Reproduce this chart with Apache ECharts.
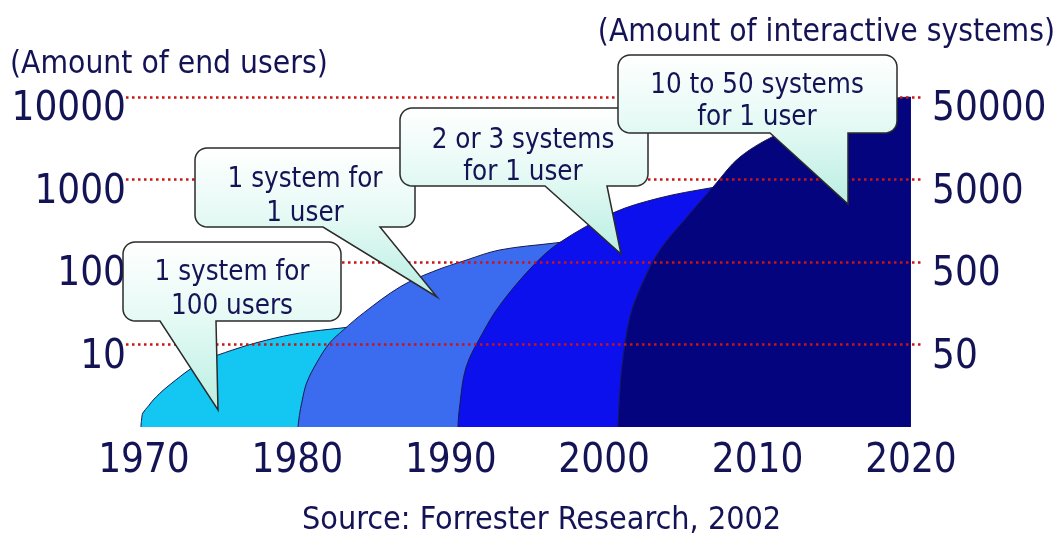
<!DOCTYPE html>
<html><head><meta charset="utf-8">
<script src="https://cdn.jsdelivr.net/npm/echarts@6/dist/echarts.min.js"></script>
<style>html,body{margin:0;background:#fff}#c{width:1061px;height:534px}</style>
</head><body><div id="c"></div>
<script>
// ---- data ----
const yearTicks = [1970, 1980, 1990, 2000, 2010, 2020];
const userTicks = [10, 100, 1000, 10000];          // left axis (end users)
const systemTickLabels = ['50', '500', '5000', '50000']; // right axis (interactive systems)

// [year, amount] outlines of each era area
const era1970 = [[1969.8,1],[1969.85,1.25],[1969.93,1.48],[1970.3,1.8],[1970.6,2.12],[1971.5,3.05],[1973.65,5.97],[1975.8,8.6],[1978.0,11.3],[1980.2,13.8],[1982.8,15.8],[1985,17.5],[1986,18]];
const era1980 = [[1980.04,1],[1980.15,1.45],[1980.28,1.95],[1980.6,3.4],[1981.26,6.0],[1982.1,10.4],[1983.0,15],[1984.3,24],[1986.7,50],[1988.8,76],[1991.05,106],[1993.2,140],[1996.8,170],[1999,190],[2001,200]];
const era1990 = [[1990.47,1],[1990.55,1.6],[1991.0,5.3],[1992.1,14],[1993.2,30],[1995.36,90],[1997.1,172],[2000.57,393],[2003.6,597],[2006.9,789],[2009,900],[2011,1000]];
const era2000 = [[2000.9,1],[2000.97,1.8],[2001.16,5.3],[2001.68,21.5],[2002.5,55.6],[2003.64,140],[2005.4,351],[2007.1,811],[2008.85,1870],[2011.46,3660],[2014,5600],[2017,8000],[2019.2,9800],[2020,10000]];

const eraNames = ['1970s', '1980s', '1990s', '2000s'];
const eraColors = ['#14c6f2', '#3b6cef', '#0b10ec', '#04047e'];

const calloutText = [
  ['1 system for', '100 users'],
  ['1 system for', '1 user'],
  ['2 or 3 systems', 'for 1 user'],
  ['10 to 50 systems', 'for 1 user']
];

// ---- layout (pixels) ----
const calloutLayout = [
  {x:123, y:242, w:218, h:79, t1:160, t2:216, tip:[218,410], tx:232, ty:[273,307]},
  {x:195, y:148, w:220, h:79, t1:323, t2:380, tip:[437,297], tx:305, ty:[180,214]},
  {x:400, y:108, w:248, h:78, t1:545, t2:607, tip:[621,254], tx:523, ty:[141,173]},
  {x:618, y:55,  w:279, h:78, t1:770, t2:848, tip:[848,204], tx:757, ty:[86,118]}
];

const FONT = '"DejaVu Sans Condensed", "Liberation Sans Narrow", "DejaVu Sans", sans-serif';
const INK = '#131355';

function arc(pts, cx, cy, r, a0, a1) {
  const n = 8;
  for (let k = 0; k <= n; k++) {
    const a = (a0 + (a1 - a0) * k / n) * Math.PI / 180;
    pts.push([cx + r * Math.cos(a), cy + r * Math.sin(a)]);
  }
}
function calloutPoints(c) {
  const r = 12, x = c.x, y = c.y, w = c.w, b = c.y + c.h;
  const pts = [];
  arc(pts, x + w - r, y + r, r, -90, 0);
  arc(pts, x + w - r, b - r, r, 0, 90);
  pts.push([c.t2, b], c.tip, [c.t1, b]);
  arc(pts, x + r, b - r, r, 90, 180);
  arc(pts, x + r, y + r, r, 180, 270);
  return pts;
}

const graphics = [];
calloutLayout.forEach((c, i) => {
  graphics.push({
    type: 'polygon', z: 20 + i * 2, silent: true,
    shape: { points: calloutPoints(c) },
    style: {
      fill: new echarts.graphic.LinearGradient(0, 0, 0, 1, [
        {offset: 0, color: '#ffffff'}, {offset: 0.45, color: '#e6faf5'}, {offset: 1, color: '#b9eee2'}
      ]),
      stroke: '#2b2b2b', lineWidth: 1.5
    }
  });
  calloutText[i].forEach((t, j) => {
    graphics.push({
      type: 'text', z: 21 + i * 2, silent: true, x: c.tx, y: c.ty[j],
      style: { text: t, font: '27.5px ' + FONT, fill: INK, align: 'center', verticalAlign: 'middle', textAlign: 'center', textVerticalAlign: 'middle' }
    });
  });
});

function areaSeries(name, data, color, z) {
  return {
    type: 'line', name, data, smooth: 0.35, symbol: 'none', silent: true, z,
    lineStyle: { width: 1, color: '#1a1a4e' },
    areaStyle: { color, opacity: 1, origin: 'start' }
  };
}

const chart = echarts.init(document.getElementById('c'), null, { renderer: 'canvas' });
chart.setOption({
  animation: false,
  backgroundColor: '#ffffff',
  title: [
    { text: '(Amount of end users)', left: 10, top: 49, padding: 0, textStyle: { fontFamily: FONT, fontSize: 31.5, fontWeight: 'normal', color: INK } },
    { text: '(Amount of interactive systems)', right: 6, top: 17, padding: 0, textStyle: { fontFamily: FONT, fontSize: 31.5, fontWeight: 'normal', color: INK } },
    { text: 'Source: Forrester Research, 2002', left: 302, top: 505, padding: 0, textStyle: { fontFamily: FONT, fontSize: 32, fontWeight: 'normal', color: INK } }
  ],
  grid: { left: 126, right: 137, top: 97, bottom: 107, containLabel: false },
  xAxis: {
    type: 'value', min: 1968.83, max: 2020.85,
    axisLine: { show: false }, axisTick: { show: false }, splitLine: { show: false },
    axisLabel: { customValues: yearTicks, formatter: v => String(v), fontFamily: FONT, fontSize: 40, color: INK, margin: 15 }
  },
  yAxis: [
    {
      type: 'log', logBase: 10, min: 1, max: 10000, position: 'left', z: 10,
      axisLine: { show: false }, axisTick: { show: false },
      axisLabel: { formatter: v => (userTicks.indexOf(v) >= 0 ? String(v) : ''), fontFamily: FONT, fontSize: 40, color: INK, margin: 0, verticalAlign: 'top', lineHeight: 26 },
      splitLine: { show: true, showMinLine: false, lineStyle: { color: '#cc1414', width: 2.5, type: [2.5, 3.5] } }
    },
    {
      type: 'log', logBase: 10, min: 1, max: 10000, position: 'right', z: 10,
      axisLine: { show: false }, axisTick: { show: false }, splitLine: { show: false },
      axisLabel: { formatter: v => { const k = userTicks.indexOf(v); return k >= 0 ? systemTickLabels[k] : ''; }, fontFamily: FONT, fontSize: 40, color: INK, margin: 8, verticalAlign: 'top', lineHeight: 26 }
    }
  ],
  series: [
    areaSeries(eraNames[0], era1970, eraColors[0], 2),
    areaSeries(eraNames[1], era1980, eraColors[1], 3),
    areaSeries(eraNames[2], era1990, eraColors[2], 4),
    areaSeries(eraNames[3], era2000, eraColors[3], 5)
  ],
  graphic: graphics
});
</script>
</body></html>
